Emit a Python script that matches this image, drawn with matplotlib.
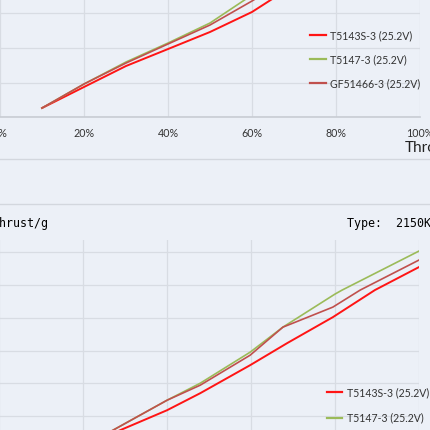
import matplotlib
matplotlib.use("Agg")
from matplotlib import pyplot as plt
from matplotlib.lines import Line2D

# ---- data ----
series_names = ['T5143S-3 (25.2V)', 'T5147-3 (25.2V)', 'GF51466-3 (25.2V)']
series_colors = ['#FF1414', '#9BBB59', '#C0504D']

# top chart: thrust (g) vs throttle (%)
throttle = [10, 20, 30, 40, 50, 60, 70, 80, 90, 100]
thrust_t5143s = [130, 435, 739, 985, 1232, 1522, 1913, 2347, 2811, 3261]
thrust_t5147 = [130, 478, 797, 1072, 1362, 1768, 2203, 2681, 3145, 3580]
thrust_gf51466 = [130, 478, 782, 1058, 1333, 1681, 2058, 2493, 2971, 3435]

# bottom chart: thrust (g) vs power (W)
power_t5143s = [150, 288, 400, 479, 598, 686, 795, 895, 1000]
load_t5143s = [406, 787, 1092, 1351, 1778, 2113, 2509, 2921, 3271]
power_t5147 = [120, 271, 400, 479, 598, 676, 800, 817, 1000]
load_t5147 = [239, 787, 1244, 1503, 1976, 2357, 2860, 2921, 3515]
power_gf51466 = [120, 271, 400, 479, 598, 676, 700, 795, 860, 1000]
load_gf51466 = [239, 787, 1244, 1473, 1930, 2357, 2418, 2662, 2921, 3378]

bg = '#ECF0F7'
grid_c = '#D8DCE3'
W = H = 430.0

plt.rcParams['font.family'] = ['Lato', 'DejaVu Sans']
fig = plt.figure(figsize=(4.3, 4.3), dpi=100, facecolor=bg)

# ---------- top chart ----------
ax1 = fig.add_axes([0 / W, (H - 117) / H, 420 / W, 276 / H])
ax1.set_facecolor(bg)
for y, nm, c in zip([thrust_t5143s, thrust_t5147, thrust_gf51466], series_names, series_colors):
    ax1.plot(throttle, y, color=c, lw=1.4 if c == '#FF1414' else 1.2, label=nm)
ax1.set_xlim(0, 100)
ax1.set_ylim(0, 4000)
ax1.set_xticks([0, 20, 40, 60, 80, 100])
ax1.set_xticklabels(['0%', '20%', '40%', '60%', '80%', '100%'])
ax1.set_yticks(range(0, 4001, 500))
ax1.tick_params(axis='x', length=0, pad=8, labelsize=7.7, colors='#333333')
ax1.tick_params(axis='y', length=0, labelleft=False)
ax1.grid(True, color=grid_c, lw=0.9)
ax1.set_axisbelow(True)
for s in ['top', 'right', 'left']:
    ax1.spines[s].set_visible(False)
ax1.spines['bottom'].set_color('#C8CCD3')
ax1.spines['bottom'].set_linewidth(1.2)
leg1 = ax1.legend(loc='upper left', bbox_to_anchor=(310 / W, 1 - 30 / H), bbox_transform=fig.transFigure,
                  frameon=False, fontsize=7.6, handlelength=1.5, handletextpad=0.4,
                  labelspacing=1.24, borderpad=0, borderaxespad=0, labelcolor='#333333')
for ln in leg1.get_lines():
    ln.set_linewidth(1.6)
fig.text(405 / W, 1 - 148 / H, 'Throttle', fontsize=11, ha='left', va='center', color='#222222')

# chart borders
fig.add_artist(Line2D([0, 1], [1 - 158.5 / H, 1 - 158.5 / H], color='#D3D7DE', lw=1.0))
fig.add_artist(Line2D([0, 1], [1 - 204 / H, 1 - 204 / H], color='#D3D7DE', lw=1.0))

# ---------- bottom chart ----------
ax2 = fig.add_axes([-1 / W, (H - 482) / H, 420 / W, 242 / H])
ax2.set_facecolor(bg)
ax2.plot(power_t5143s, load_t5143s, color=series_colors[0], lw=1.4, label=series_names[0])
ax2.plot(power_t5147, load_t5147, color=series_colors[1], lw=1.2, label=series_names[1])
ax2.plot(power_gf51466, load_gf51466, color=series_colors[2], lw=1.2, label=series_names[2])
ax2.set_xlim(0, 1000)
ax2.set_ylim(0, 3683)
ax2.set_xticks(range(0, 1001, 200))
ax2.set_yticks(range(0, 3501, 500))
ax2.tick_params(length=0, labelleft=False, labelbottom=False)
ax2.grid(True, color=grid_c, lw=0.9)
ax2.set_axisbelow(True)
for s in ax2.spines.values():
    s.set_visible(False)
leg2 = ax2.legend(loc='upper left', bbox_to_anchor=(327 / W, 1 - 387 / H), bbox_transform=fig.transFigure,
                  frameon=False, fontsize=7.6, handlelength=1.45, handletextpad=0.45,
                  labelspacing=1.36, borderpad=0, borderaxespad=0, labelcolor='#333333')
for ln in leg2.get_lines():
    ln.set_linewidth(1.6)

fig.text(-7 / W, 1 - 224 / H, 'Thrust/g', family='DejaVu Sans Mono', fontsize=8.4,
         ha='left', va='center', color='#000000')
fig.text(347 / W, 1 - 224 / H, 'Type:  2150KV', family='DejaVu Sans Mono', fontsize=8.4,
         ha='left', va='center', color='#000000')

fig.savefig('out.png', dpi=100, facecolor=bg)
